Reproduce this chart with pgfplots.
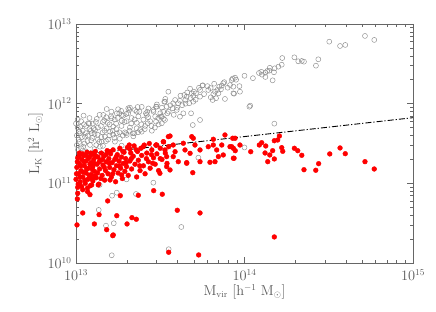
\documentclass[border=0pt]{standalone}
\usepackage{pgfplots}
\pgfplotsset{compat=1.18}
\definecolor{axgray}{gray}{0.40}
\definecolor{labgray}{gray}{0.35}
\definecolor{ptgray}{gray}{0.55}
\begin{document}
\begin{tikzpicture}
\useasboundingbox (-76pt,-49pt) rectangle (360pt,263pt);
\begin{axis}[
  scale only axis, width=337pt, height=239pt,
  xmin=13, xmax=15, ymin=10, ymax=13,
  xtick={13,14,15}, xticklabels={$10^{13}$,$10^{14}$,$10^{15}$},
  ytick={10,11,12,13}, yticklabels={$10^{10}$,$10^{11}$,$10^{12}$,$10^{13}$},
  minor xtick={13.301,13.477,13.602,13.699,13.778,13.845,13.903,13.954,14.301,14.477,14.602,14.699,14.778,14.845,14.903,14.954},
  minor ytick={10.301,10.477,10.602,10.699,10.778,10.845,10.903,10.954,11.301,11.477,11.602,11.699,11.778,11.845,11.903,11.954,12.301,12.477,12.602,12.699,12.778,12.845,12.903,12.954},
  major tick length=6pt, minor tick length=3pt,
  every tick/.style={axgray, line width=0.4pt},
  axis line style={axgray, line width=0.6pt},
  ticklabel style={text=labgray, font=\fontsize{13.5}{15}\selectfont},
  xticklabel style={yshift=-3pt},
  yticklabel style={xshift=-1pt},
  label style={text=labgray, font=\fontsize{13.5}{15}\selectfont},
  xlabel={$\mathrm{M_{vir}\ [h^{-1}\ M_{\odot}]}$},
  ylabel={$\mathrm{L_{K}\ [h^{2}\ L_{\odot}]}$},
  xlabel style={yshift=3pt},
  ylabel style={yshift=-2pt},
  clip=true,
]
% gray open circles
\addplot[only marks, mark=o, mark size=2.5pt, mark options={ptgray, line width=0.45pt}] table {
x y
14.715 12.85
14.770 12.80
14.503 12.778
14.567 12.724
14.598 12.737
14.296 12.582
14.224 12.573
14.319 12.532
14.340 12.536
14.353 12.527
14.438 12.557
14.424 12.477
14.221 12.489
14.201 12.464
14.179 12.444
14.175 12.394
14.167 12.293
14.147 12.414
14.135 12.410
14.124 12.389
14.124 12.335
14.104 12.364
14.086 12.385
13.973 12.150
14.034 11.975
14.177 11.749
13.930 12.314
13.944 12.326
13.924 12.297
13.914 12.234
13.934 12.213
13.938 12.125
13.874 12.256
13.865 12.226
13.850 12.213
13.839 12.172
13.825 12.150
13.815 12.118
13.811 12.046
13.831 12.068
13.845 12.130
13.884 12.059
13.934 12.130
14.029 11.962
13.799 12.196
13.785 12.172
13.750 12.226
13.736 12.172
13.712 12.130
13.696 12.096
13.736 12.088
13.687 12.130
13.677 12.188
13.643 12.109
13.657 12.088
13.649 12.046
13.696 12.025
13.672 12.005
13.617 12.037
13.607 12.005
13.588 12.046
13.577 12.005
13.574 11.942
13.598 11.921
13.617 11.837
13.637 11.879
13.683 11.879
13.548 12.150
13.528 12.025
13.538 11.962
13.518 11.899
13.542 11.879
13.509 11.837
13.528 11.795
13.509 11.754
13.736 11.795
13.693 11.732
13.752 12.231
13.182 11.933
13.320 11.950
13.366 11.958
13.257 11.879
13.316 11.921
13.376 11.899
13.415 11.879
13.475 11.962
13.524 12.025
13.504 11.837
13.475 11.774
13.426 11.754
13.073 11.754
13.123 11.808
13.162 11.858
13.212 11.817
13.242 11.879
13.271 11.858
13.271 11.786
13.310 11.942
13.360 11.899
13.423 11.899
13.459 11.921
13.479 11.962
13.301 11.607
13.360 11.691
13.390 11.648
13.337 11.628
13.271 11.473
13.142 11.460
13.043 11.460
13.083 11.482
13.024 11.628
13.053 11.586
13.093 11.628
13.113 11.670
13.182 11.691
13.221 11.711
13.202 11.648
13.172 11.586
13.242 11.628
13.153 11.523
13.231 11.523
13.297 11.628
13.346 11.628
13.01 11.70
13.02 11.52
13.03 11.78
13.04 11.66
13.05 11.50
13.06 11.72
13.07 11.60
13.08 11.82
13.09 11.54
13.10 11.75
13.11 11.62
13.12 11.48
13.13 11.70
13.14 11.86
13.15 11.58
13.16 11.77
13.17 11.66
13.18 11.83
13.19 11.55
13.20 11.74
13.21 11.90
13.22 11.61
13.23 11.80
13.24 11.68
13.25 11.93
13.26 11.56
13.27 11.72
13.28 11.85
13.29 11.64
13.30 11.78
13.31 11.88
13.32 11.70
13.33 11.82
13.34 11.59
13.35 11.92
13.36 11.76
13.37 11.84
13.38 11.67
13.39 11.96
13.40 11.80
13.41 11.72
13.42 11.86
13.43 11.94
13.44 11.78
13.45 11.66
13.46 11.90
13.47 11.84
13.48 11.99
13.49 11.74
13.50 11.88
13.51 11.95
13.52 11.81
13.53 12.06
13.55 11.90
13.56 11.98
13.58 11.86
13.60 11.95
13.62 12.10
13.63 11.98
13.65 12.00
13.66 12.14
13.68 12.07
13.70 12.15
13.71 12.05
13.73 12.20
13.76 12.12
13.78 12.22
13.80 12.08
13.82 12.25
13.86 12.18
13.88 12.27
13.90 12.20
13.95 12.30
13.97 12.22
14.00 12.35
14.05 12.32
14.10 12.40
14.15 12.45
14.00 11.45
13.005 11.60
13.01 11.80
13.015 11.55
13.02 11.65
13.00 11.75
13.03 11.44
13.045 11.85
13.06 11.40
13.08 11.68
13.11 11.43
13.13 11.55
13.16 11.47
13.005 11.48
13.012 11.42
13.025 11.71
13.035 11.58
13.048 11.74
13.058 11.63
13.068 11.53
13.078 11.75
13.088 11.66
13.098 11.57
13.105 11.69
13.118 11.77
13.128 11.61
13.138 11.52
13.148 11.72
13.158 11.64
13.168 11.79
13.178 11.53
13.188 11.76
13.198 11.60
13.208 11.84
13.218 11.66
13.228 11.57
13.238 11.75
13.248 11.82
13.258 11.64
13.268 11.91
13.278 11.60
13.288 11.77
13.298 11.87
13.318 11.66
13.328 11.75
13.348 11.80
13.368 11.64
13.388 11.74
13.408 11.68
13.428 11.83
13.448 11.72
13.468 11.70
13.488 11.82
13.459 11.008
13.242 10.883
13.214 10.845
13.356 10.866
13.135 10.666
13.178 10.469
13.224 10.499
13.625 10.452
13.550 10.173
13.212 10.097
13.726 11.322
13.14 10.98
13.30 11.05
};
% red filled circles
\addplot[only marks, mark=*, mark size=2.4pt, mark options={red, draw=red}] table {
x y
13.010 10.875
13.069 10.895
13.083 10.858
13.263 10.845
13.370 10.850
13.461 10.908
13.512 10.863
13.188 10.779
13.040 10.628
13.137 10.607
13.242 10.594
13.332 10.569
13.358 10.549
13.601 10.662
13.736 10.628
13.006 10.478
13.109 10.490
13.182 10.418
13.303 10.490
13.221 10.352
13.218 10.343
13.550 10.135
13.728 10.101
14.177 10.327
13.693 11.134
13.657 11.260
13.008 10.804
13.930 11.566
13.924 11.460
13.934 11.440
13.945 11.410
13.938 11.315
13.973 11.481
14.037 11.397
14.088 11.481
14.102 11.510
14.126 11.469
14.122 11.381
14.150 11.356
14.138 11.272
14.167 11.410
14.177 11.535
14.197 11.544
14.207 11.594
14.177 11.306
14.221 11.448
14.227 11.402
14.296 11.440
14.316 11.410
14.340 11.352
14.353 11.171
14.423 11.164
14.440 11.247
14.506 11.369
14.567 11.444
14.598 11.372
14.715 11.272
14.770 11.180
13.00 11.05
13.005 11.20
13.01 11.32
13.01 10.95
13.015 11.12
13.02 11.38
13.02 11.25
13.025 11.02
13.03 11.16
13.035 11.30
13.04 10.92
13.04 11.08
13.045 11.35
13.05 11.22
13.055 11.00
13.06 11.28
13.06 11.13
13.065 11.39
13.07 11.05
13.075 11.19
13.08 11.33
13.085 10.97
13.09 11.26
13.09 11.11
13.095 11.36
13.10 11.03
13.10 11.21
13.105 11.30
13.11 11.15
13.115 11.40
13.12 11.07
13.125 11.24
13.13 11.33
13.135 10.99
13.14 11.18
13.145 11.29
13.15 11.38
13.155 11.10
13.16 11.23
13.165 11.34
13.17 11.04
13.175 11.16
13.18 11.27
13.185 11.41
13.19 11.12
13.195 11.31
13.20 11.20
13.205 11.37
13.21 11.08
13.215 11.26
13.22 11.42
13.225 11.17
13.23 11.30
13.235 11.02
13.24 11.22
13.245 11.36
13.25 11.13
13.255 11.28
13.26 11.44
13.265 11.19
13.27 11.33
13.275 11.06
13.28 11.25
13.285 11.39
13.29 11.15
13.295 11.31
13.30 11.21
13.305 11.45
13.31 11.10
13.32 11.28
13.325 11.38
13.33 11.18
13.34 11.34
13.345 11.47
13.35 11.24
13.36 11.08
13.365 11.40
13.37 11.29
13.38 11.16
13.385 11.44
13.39 11.35
13.40 11.22
13.405 11.48
13.41 11.12
13.42 11.38
13.43 11.27
13.435 11.50
13.44 11.19
13.45 11.42
13.46 11.32
13.47 11.24
13.475 11.48
13.48 11.37
13.49 11.16
13.50 11.44
13.51 11.30
13.52 11.52
13.53 11.38
13.54 11.25
13.55 11.46
13.548 11.586
13.687 11.586
13.696 11.566
13.884 11.607
13.944 11.566
13.518 11.523
13.577 11.481
13.637 11.503
13.706 11.481
13.785 11.460
13.815 11.481
13.865 11.481
13.914 11.460
13.528 11.419
13.588 11.397
13.647 11.419
13.677 11.377
13.736 11.419
13.835 11.419
13.874 11.356
13.934 11.315
13.538 11.335
13.577 11.335
13.607 11.272
13.657 11.252
13.736 11.272
13.795 11.264
13.825 11.272
13.845 11.335
13.538 11.210
13.500 11.31
13.316 11.481
13.475 11.481
13.558 11.594
13.815 11.553
13.479 11.481
13.399 11.460
13.320 11.428
13.202 11.397
13.103 11.377
13.455 11.252
13.558 11.168
13.498 11.126
13.271 11.105
13.202 11.042
13.132 10.980
13.093 10.980
13.003 11.12
13.008 11.27
13.013 10.99
13.018 11.34
13.023 11.08
13.028 11.22
13.033 10.96
13.038 11.37
13.043 11.14
13.048 11.27
13.053 11.04
13.058 11.35
13.063 11.18
13.068 10.94
13.073 11.31
13.078 11.10
13.083 11.24
13.088 11.38
13.093 11.06
13.098 11.17
13.108 11.25
13.113 11.09
13.118 11.34
13.128 11.13
13.138 11.27
13.148 11.06
13.158 11.30
13.168 11.20
13.178 11.36
13.198 11.25
13.218 11.12
13.238 11.33
13.258 11.22
13.278 11.40
13.298 11.26
13.328 11.31
13.358 11.42
13.378 11.22
13.418 11.31
13.448 11.36
};
% dash-dot relation
\addplot[black, line width=0.9pt, dash pattern=on 6pt off 2pt on 1.2pt off 2pt] coordinates {(13,11.35) (15,11.824)};
\end{axis}
\end{tikzpicture}
\end{document}
